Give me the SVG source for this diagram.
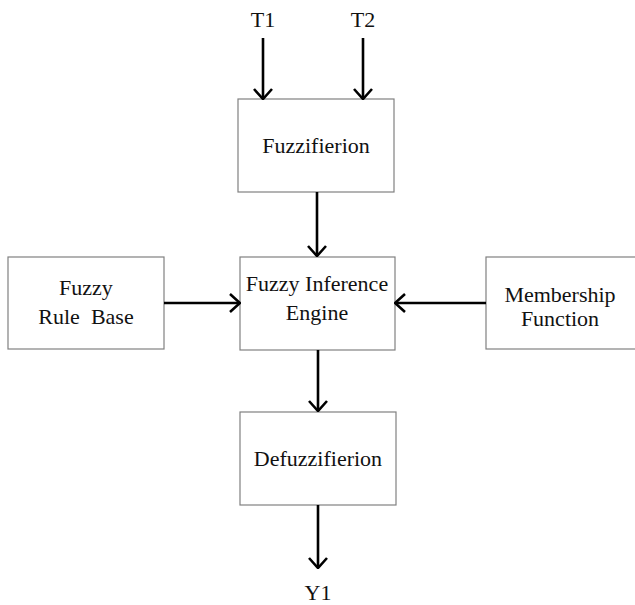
<svg xmlns="http://www.w3.org/2000/svg" width="635" height="605" viewBox="0 0 635 605">
  <style>
    .box { fill: #ffffff; stroke: #808080; stroke-width: 1.2; }
    .lbl { font-family: "Liberation Serif", "Times New Roman", serif; font-size: 22px; fill: #111; text-anchor: middle; }
    .wire { stroke: #000; stroke-width: 2.6; fill: none; marker-end: url(#head); }
  </style>
  <defs>
    <marker id="head" viewBox="0 0 12 20" refX="11" refY="10" markerWidth="12" markerHeight="20" markerUnits="userSpaceOnUse" orient="auto">
      <path d="M1,1 L11,10 L1,19" fill="none" stroke="#000" stroke-width="2.6"/>
    </marker>
  </defs>
  <rect width="635" height="605" fill="#ffffff"/>

  <g id="input-t1"><text class="lbl" x="263" y="27">T1</text></g>
  <g id="input-t2"><text class="lbl" x="363" y="27">T2</text></g>

  <g id="fuzzifierion">
    <rect class="box" x="238" y="99" width="156" height="93"/>
    <text class="lbl" x="316" y="153">Fuzzifierion</text>
  </g>

  <g id="rule-base">
    <rect class="box" x="8" y="257" width="156" height="92"/>
    <text class="lbl" x="86" y="295">Fuzzy</text>
    <text class="lbl" x="86" y="324" xml:space="preserve">Rule  Base</text>
  </g>

  <g id="inference-engine">
    <rect class="box" x="240" y="257" width="155" height="93"/>
    <text class="lbl" x="317" y="291">Fuzzy Inference</text>
    <text class="lbl" x="317" y="320">Engine</text>
  </g>

  <g id="membership-function">
    <rect class="box" x="486" y="257" width="160" height="92"/>
    <text class="lbl" x="560" y="302">Membership</text>
    <text class="lbl" x="560" y="326">Function</text>
  </g>

  <g id="defuzzifierion">
    <rect class="box" x="240" y="412" width="156" height="93"/>
    <text class="lbl" x="318" y="466">Defuzzifierion</text>
  </g>

  <g id="output-y1"><text class="lbl" x="318" y="600">Y1</text></g>

  <g id="connectors">
    <line class="wire" x1="263" y1="38" x2="263" y2="99"/>
    <line class="wire" x1="363" y1="38" x2="363" y2="99"/>
    <line class="wire" x1="317" y1="192" x2="317" y2="256"/>
    <line class="wire" x1="164" y1="303" x2="240" y2="303"/>
    <line class="wire" x1="486" y1="303" x2="395" y2="303"/>
    <line class="wire" x1="318" y1="350" x2="318" y2="411"/>
    <line class="wire" x1="318" y1="505" x2="318" y2="568"/>
  </g>
</svg>
